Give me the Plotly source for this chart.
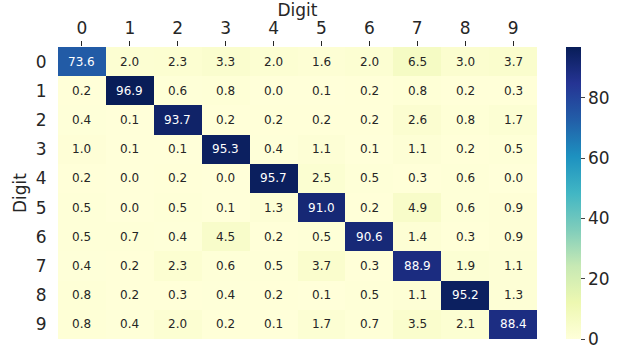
import plotly.graph_objects as go

digits = [str(i) for i in range(10)]
values = [
    [73.6, 2.0, 2.3, 3.3, 2.0, 1.6, 2.0, 6.5, 3.0, 3.7],
    [0.2, 96.9, 0.6, 0.8, 0.0, 0.1, 0.2, 0.8, 0.2, 0.3],
    [0.4, 0.1, 93.7, 0.2, 0.2, 0.2, 0.2, 2.6, 0.8, 1.7],
    [1.0, 0.1, 0.1, 95.3, 0.4, 1.1, 0.1, 1.1, 0.2, 0.5],
    [0.2, 0.0, 0.2, 0.0, 95.7, 2.5, 0.5, 0.3, 0.6, 0.0],
    [0.5, 0.0, 0.5, 0.1, 1.3, 91.0, 0.2, 4.9, 0.6, 0.9],
    [0.5, 0.7, 0.4, 4.5, 0.2, 0.5, 90.6, 1.4, 0.3, 0.9],
    [0.4, 0.2, 2.3, 0.6, 0.5, 3.7, 0.3, 88.9, 1.9, 1.1],
    [0.8, 0.2, 0.3, 0.4, 0.2, 0.1, 0.5, 1.1, 95.2, 1.3],
    [0.8, 0.4, 2.0, 0.2, 0.1, 1.7, 0.7, 3.5, 2.1, 88.4],
]
cbar_ticks = [0, 20, 40, 60, 80]

ylgnbu = ["#ffffd9", "#edf8b1", "#c7e9b4", "#7fcdbb", "#41b6c4",
          "#1d91c0", "#225ea8", "#253494", "#081d58"]
cscale = [[i / (len(ylgnbu) - 1), c] for i, c in enumerate(ylgnbu)]

zmin = 0.0
zmax = max(max(r) for r in values)

fig = go.Figure()
fig.add_trace(go.Heatmap(
    z=values, x=digits, y=digits,
    colorscale=cscale, zmin=zmin, zmax=zmax,
    xgap=0, ygap=0,
    colorbar=dict(
        thickness=15, len=1.0, lenmode="fraction", y=0.5, yanchor="middle",
        x=1.06, xanchor="left", xpad=0, ypad=0, outlinewidth=0,
        tickvals=cbar_ticks, ticks="outside", ticklen=4,
        tickfont=dict(size=17, color="#262626", family="DejaVu Sans"),
    ),
    hoverinfo="skip",
))

annotations = []
for i, row in enumerate(values):
    for j, v in enumerate(row):
        col = "#ffffff" if v > zmax / 2 else "#262626"
        annotations.append(dict(
            x=digits[j], y=digits[i], text=f"{v:.1f}", showarrow=False,
            font=dict(size=12, color=col, family="DejaVu Sans"),
            xref="x", yref="y",
        ))
annotations.append(dict(
    x=0.87, y=-0.02, xref="paper", yref="paper", xanchor="center", yanchor="middle",
    text="安全客 ( www.anquanke.com )", showarrow=False,
    font=dict(size=12, color="rgba(255,255,255,0.85)", family="Noto Sans CJK SC"),
))

fig.update_layout(
    width=625, height=355,
    margin=dict(l=58, r=88, t=47, b=16, autoexpand=False),
    paper_bgcolor="white", plot_bgcolor="white",
    font=dict(family="DejaVu Sans", color="#262626"),
    annotations=annotations,
    xaxis=dict(
        side="top", tickvals=digits, ticks="outside", ticklen=5, tickcolor="#262626",
        tickfont=dict(size=17), showgrid=False, zeroline=False, automargin=False,
        title=dict(text="Digit", font=dict(size=17), standoff=0),
    ),
    yaxis=dict(
        autorange="reversed", tickvals=digits, ticks="outside", ticklen=7,
        tickcolor="white", tickfont=dict(size=17),
        showgrid=False, zeroline=False, automargin=False,
        title=dict(text="Digit", font=dict(size=17), standoff=4),
    ),
)

fig.write_html("out.html", config={"displayModeBar": False},
               post_script="document.body.style.margin='0';")
